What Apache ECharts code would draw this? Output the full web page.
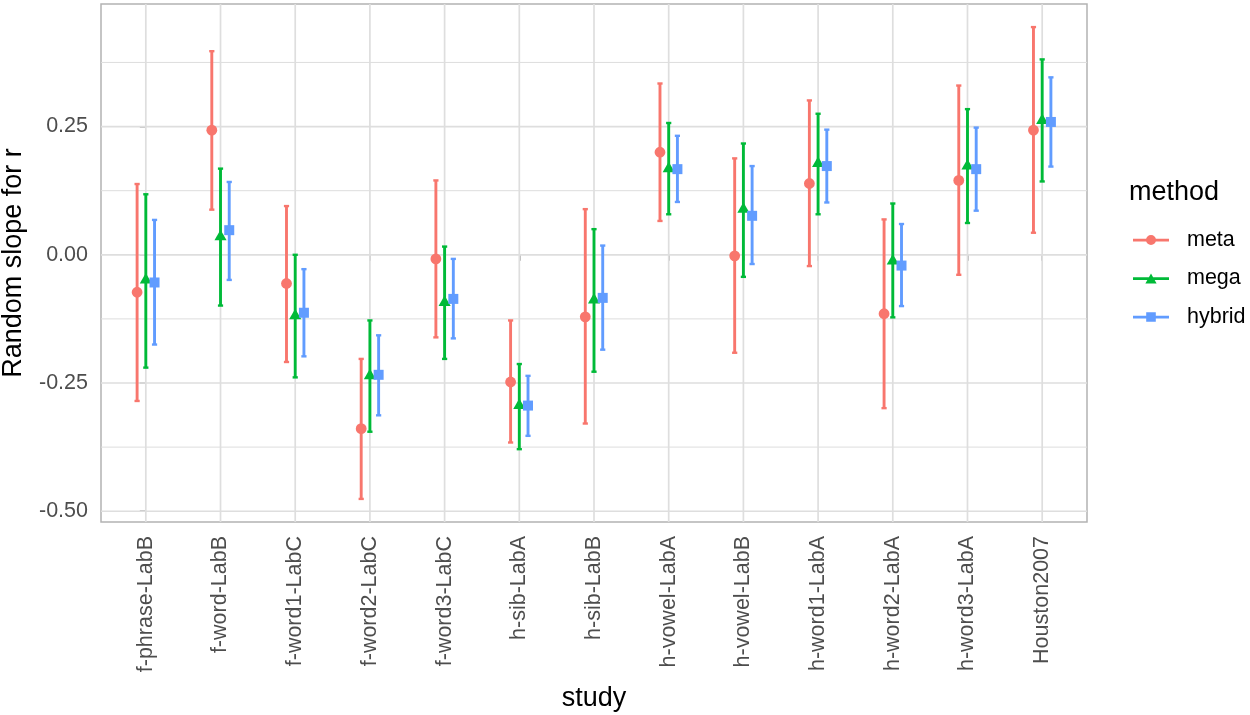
<!DOCTYPE html>
<html>
<head>
<meta charset="utf-8">
<script src="https://cdn.jsdelivr.net/npm/echarts@6/dist/echarts.min.js"></script>
<style>html,body{margin:0;padding:0;background:#fff;}#c{width:1250px;height:715px;}</style>
</head>
<body>
<div id="c"></div>
<script>
const studies = ["f-phrase-LabB","f-word-LabB","f-word1-LabC","f-word2-LabC","f-word3-LabC","h-sib-LabA","h-sib-LabB","h-vowel-LabA","h-vowel-LabB","h-word1-LabA","h-word2-LabA","h-word3-LabA","Houston2007"];
const methods = ["meta","mega","hybrid"];

const metaEst = [-0.073, 0.243, -0.056, -0.339, -0.008, -0.248, -0.121, 0.200, -0.002, 0.139, -0.115, 0.145, 0.243];
const metaLo  = [-0.285, 0.088, -0.209, -0.476, -0.161, -0.366, -0.329, 0.066, -0.191, -0.022, -0.299, -0.039, 0.043];
const metaHi  = [ 0.138, 0.397,  0.095, -0.203,  0.145, -0.128,  0.089, 0.334,  0.188,  0.301,  0.069,  0.330, 0.444];

const megaEst = [-0.049, 0.035, -0.119, -0.236, -0.093, -0.294, -0.088, 0.168, 0.089, 0.178, -0.012, 0.173, 0.262];
const megaLo  = [-0.220, -0.099, -0.239, -0.345, -0.203, -0.379, -0.228, 0.079, -0.043, 0.079, -0.122, 0.062, 0.143];
const megaHi  = [ 0.118, 0.168,  0.000, -0.128,  0.016, -0.213,  0.050, 0.257, 0.217, 0.275, 0.100, 0.284, 0.381];

const hybEst = [-0.054, 0.048, -0.113, -0.234, -0.086, -0.294, -0.084, 0.167, 0.076, 0.173, -0.021, 0.167, 0.259];
const hybLo  = [-0.175, -0.049, -0.198, -0.313, -0.163, -0.353, -0.185, 0.103, -0.018, 0.102, -0.100, 0.086, 0.172];
const hybHi  = [ 0.068, 0.142, -0.028, -0.157, -0.008, -0.236, 0.018, 0.232, 0.173, 0.244, 0.060, 0.248, 0.346];

const yTicks = [-0.5, -0.25, 0, 0.25];
const yMinor = [-0.375, -0.125, 0.125, 0.375];

const colors = ["#F8766D", "#00BA38", "#619CFF"];
const dodge = [-0.1167, 0, 0.1167];
const FONT = "'Liberation Sans', Arial, Helvetica, sans-serif";

function rows(est, lo, hi){ return studies.map((s,i)=>[i, est[i], lo[i], hi[i]]); }
const seriesData = [rows(metaEst, metaLo, metaHi), rows(megaEst, megaLo, megaHi), rows(hybEst, hybLo, hybHi)];

function shapeFor(k, cx, cy, color){
  if (k === 0) return {type:'circle', shape:{cx:cx, cy:cy, r:5.4}, style:{fill:color}};
  if (k === 1) { const r = 7; return {type:'polygon', shape:{points:[[cx, cy - r],[cx + r*0.866, cy + r/2],[cx - r*0.866, cy + r/2]]}, style:{fill:color}}; }
  return {type:'rect', shape:{x:cx-5, y:cy-5, width:10, height:10}, style:{fill:color}};
}

function makeErr(k){
  return {
    name: methods[k], type:'custom', z: 3 + k,
    itemStyle:{color: colors[k]},
    data: seriesData[k],
    encode:{x:0, y:[1,2,3]},
    renderItem: function(params, api){
      const x = api.value(0) + dodge[k];
      const pE = api.coord([x, api.value(1)]);
      const pL = api.coord([x, api.value(2)]);
      const pH = api.coord([x, api.value(3)]);
      const c = colors[k];
      const ls = {stroke:c, lineWidth:2.9};
      return {type:'group', children:[
        {type:'line', shape:{x1:pH[0], y1:pH[1], x2:pL[0], y2:pL[1]}, style:ls},
        {type:'line', shape:{x1:pH[0]-2.6, y1:pH[1], x2:pH[0]+2.6, y2:pH[1]}, style:{stroke:c, lineWidth:2.4}},
        {type:'line', shape:{x1:pL[0]-2.6, y1:pL[1], x2:pL[0]+2.6, y2:pL[1]}, style:{stroke:c, lineWidth:2.4}},
        shapeFor(k, pE[0], pE[1], c)
      ]};
    }
  };
}

function hLines(vals, width){
  return {type:'custom', silent:true, z:1, data: vals.map(v=>[0, v]), encode:{x:0,y:1},
    renderItem: function(params, api){
      const cs = params.coordSys;
      const y = api.coord([0, api.value(1)])[1];
      return {type:'line', shape:{x1:cs.x, y1:y, x2:cs.x+cs.width, y2:y}, style:{stroke:'#dedede', lineWidth:width}};
    }};
}
function vLines(){
  return {type:'custom', silent:true, z:1, data: studies.map((s,i)=>[i, 0]), encode:{x:0,y:1},
    renderItem: function(params, api){
      const cs = params.coordSys;
      const x = api.coord([api.value(0), 0])[0];
      return {type:'line', shape:{x1:x, y1:cs.y, x2:x, y2:cs.y+cs.height}, style:{stroke:'#dedede', lineWidth:1.7}};
    }};
}

const icons = [
  'path://M0,4.8 L36,4.8 L36,7.6 L0,7.6 Z M18,1 A5,5 0 1 1 18,11 A5,5 0 1 1 18,1 Z',
  'path://M0,4.8 L36,4.8 L36,7.6 L0,7.6 Z M18,1 L23.6,11 L12.4,11 Z',
  'path://M0,4.8 L36,4.8 L36,7.6 L0,7.6 Z M13.2,1.2 L22.8,1.2 L22.8,10.8 L13.2,10.8 Z'
];

const chart = echarts.init(document.getElementById('c'), null, {renderer:'canvas'});
chart.setOption({
  animation:false,
  backgroundColor:'#ffffff',
  textStyle:{fontFamily:FONT},
  title:{text:'method', left:1129, top:179, padding:0, textStyle:{fontFamily:FONT, fontSize:27, fontWeight:'normal', color:'#000'}},
  legend:{
    orient:'vertical', left:1133, top:229, itemWidth:36, itemHeight:10, itemGap:16.5, padding:0,
    data: methods.map((m,k)=>({name:m, icon:icons[k], itemStyle:{color:colors[k]}})),
    textStyle:{fontFamily:FONT, fontSize:21.5, color:'#000', lineHeight:22, padding:[0,0,0,13]},
    selectedMode:false
  },
  grid:{left:101, right:163, top:4, bottom:193, show:true, borderColor:'#b3b3b3', borderWidth:1.5, backgroundColor:'transparent', containLabel:false, outerBoundsMode:'none'},
  xAxis:{
    type:'value', min:-0.6, max:12.6,
    name:'study', nameLocation:'middle', nameGap:163,
    nameTextStyle:{fontFamily:FONT, fontSize:27, color:'#000'},
    axisLine:{show:false},
    axisTick:{show:true, length:6, lineStyle:{color:'#b3b3b3', width:1.7}, customValues: studies.map((s,i)=>i)},
    axisLabel:{rotate:90, margin:14, fontFamily:FONT, fontSize:21.5, color:'#4d4d4d',
      customValues: studies.map((s,i)=>i), formatter: v => studies[Math.round(v)]},
    splitLine:{show:false}
  },
  yAxis:{
    type:'value', min:-0.521, max:0.489,
    name:'Random slope for r', nameLocation:'middle', nameGap:74, nameRotate:90,
    nameTextStyle:{fontFamily:FONT, fontSize:27, color:'#000'},
    axisLine:{show:false},
    axisTick:{show:true, length:6, lineStyle:{color:'#b3b3b3', width:1.7}, customValues: yTicks},
    axisLabel:{margin:13, fontFamily:FONT, fontSize:21.5, color:'#4d4d4d', customValues: yTicks, formatter: v => v.toFixed(2)},
    splitLine:{show:false}
  },
  series:[hLines(yMinor, 1), hLines(yTicks, 1.7), vLines(), makeErr(0), makeErr(1), makeErr(2)]
});
</script>
</body>
</html>
